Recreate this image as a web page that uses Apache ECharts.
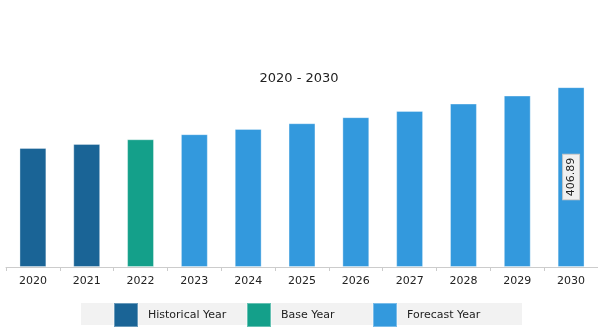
<!DOCTYPE html>
<html>
<head>
<meta charset="utf-8">
<style>
  html, body { margin: 0; padding: 0; background: #ffffff; }
  #chart { width: 598px; height: 334px; }
</style>
<script src="https://cdn.jsdelivr.net/npm/echarts@6/dist/echarts.min.js"></script>
</head>
<body>
<div id="chart"></div>
<script>
// Market size by year, 2020 - 2030
const years = ['2020', '2021', '2022', '2023', '2024', '2025', '2026', '2027', '2028', '2029', '2030'];
const values = [269.5, 278.5, 289.0, 300.5, 312.5, 325.3, 339.0, 353.2, 369.8, 387.9, 406.89];
const phases = ['Historical Year', 'Historical Year', 'Base Year', 'Forecast Year', 'Forecast Year',
  'Forecast Year', 'Forecast Year', 'Forecast Year', 'Forecast Year', 'Forecast Year', 'Forecast Year'];
const phaseNames = ['Historical Year', 'Base Year', 'Forecast Year'];
const phaseColors = ['#1a6496', '#14a08a', '#3399dd'];
const labelledYear = '2030';

const FONT = 'DejaVu Sans';

const series = phaseNames.map((name, k) => ({
  name: name,
  type: 'bar',
  stack: 'years',
  barWidth: '50%',
  itemStyle: {
    color: phaseColors[k],
    borderColor: 'rgba(255,255,255,0.35)',
    borderWidth: 1
  },
  data: years.map((y, i) => {
    if (phases[i] !== name) return '-';
    if (y === labelledYear) {
      return {
        value: values[i],
        label: {
          show: true,
          position: 'inside',
          rotate: 90,
          formatter: p => p.value.toFixed(2),
          fontFamily: FONT,
          fontSize: 11,
          color: '#222',
          backgroundColor: '#f0f0f0',
          borderColor: '#c8c8c8',
          borderWidth: 1,
          padding: [3, 3, 2, 3]
        }
      };
    }
    return values[i];
  })
}));

const legendLefts = [113, 246, 372];

const chart = echarts.init(document.getElementById('chart'), null, { renderer: 'canvas' });
chart.setOption({
  animation: false,
  title: {
    text: '2020 - 2030',
    left: 'center',
    top: 67,
    textStyle: { fontFamily: FONT, fontSize: 13, fontWeight: 'normal', color: '#222' }
  },
  graphic: [{
    type: 'rect',
    z: -1,
    shape: { x: 81, y: 303, width: 441, height: 22 },
    style: { fill: '#f2f2f2' }
  }],
  legend: phaseNames.map((name, k) => ({
    data: [name],
    left: legendLefts[k],
    top: 302,
    padding: 0,
    itemWidth: 24,
    itemHeight: 24,
    icon: 'rect',
    selectedMode: false,
    textStyle: { fontFamily: FONT, fontSize: 11, color: '#222', padding: [0, 0, 0, 5] }
  })),
  grid: { left: 6, right: -2, top: 46, bottom: 67 },
  xAxis: {
    type: 'category',
    data: years,
    axisLine: { lineStyle: { color: '#cccccc' } },
    axisTick: { show: true, length: 4, lineStyle: { color: '#cccccc' } },
    axisLabel: { fontFamily: FONT, fontSize: 11, color: '#222', margin: 9 }
  },
  yAxis: {
    type: 'value',
    min: 0,
    max: 500,
    show: false,
    splitLine: { show: false }
  },
  series: series
});
</script>
</body>
</html>
